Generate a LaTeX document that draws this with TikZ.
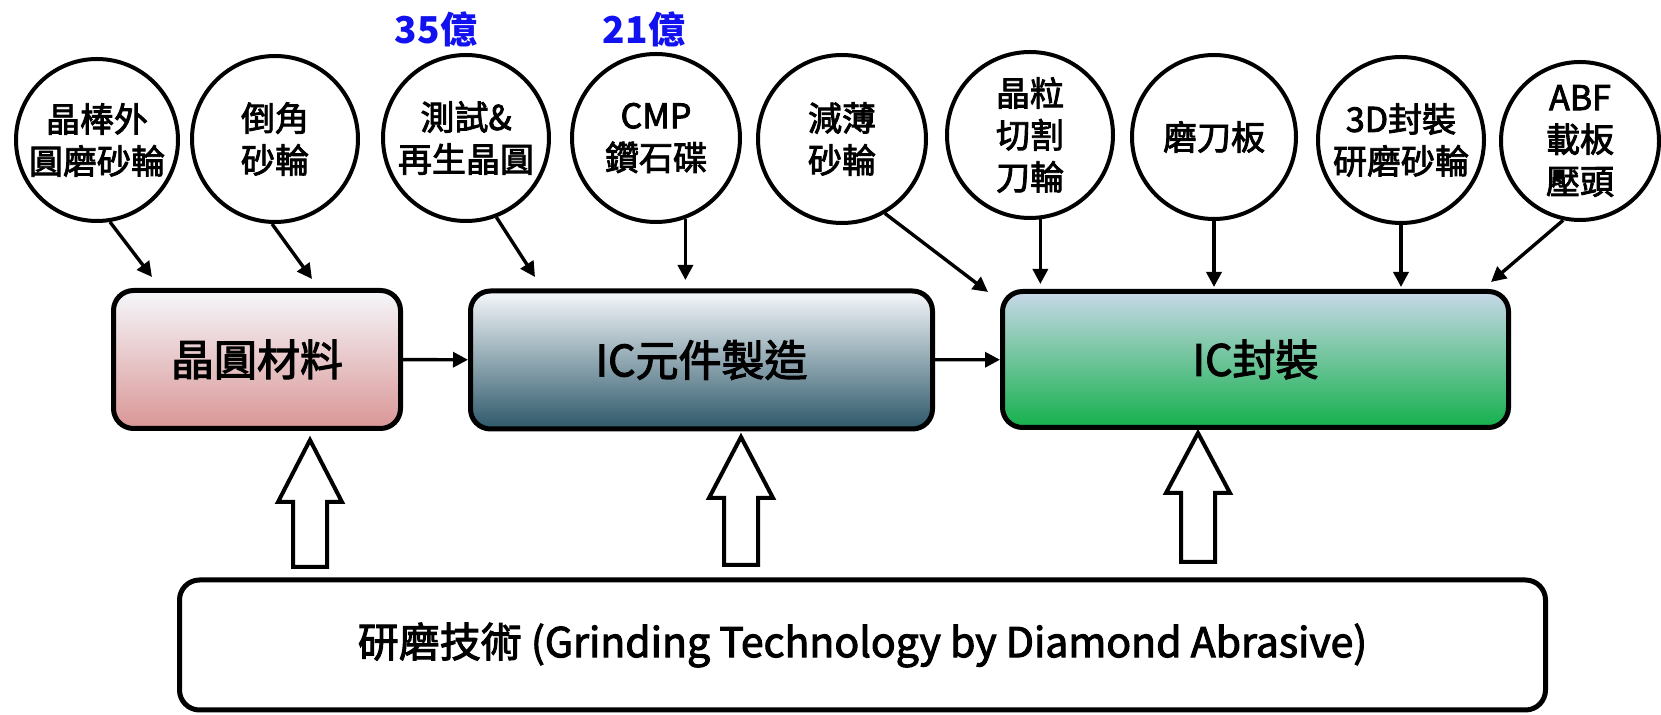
\documentclass[tikz,border=0pt]{standalone}
\usepackage{fontspec}
\setmainfont{Noto Sans CJK TC}
\newfontfamily\txfont{Noto Sans CJK TC}[FakeBold=2.5]
\usetikzlibrary{arrows.meta,calc}
\definecolor{lblblue}{RGB}{18,18,240}
\definecolor{gatop}{RGB}{245,247,251}
\definecolor{gabot}{RGB}{218,150,150}
\definecolor{gbtop}{RGB}{245,248,251}
\definecolor{gbbot}{RGB}{45,88,105}
\definecolor{gctop}{RGB}{200,216,232}
\definecolor{gcbot}{RGB}{20,176,76}
\newcommand{\blkarrow}[4]{%
  \draw[blk] ({#1-17},#4) -- ({#1-17},#3) -- ({#1-32},#3) -- (#1,#2) -- ({#1+32},#3) -- ({#1+17},#3) -- ({#1+17},#4) -- cycle;}
\begin{document}
\begin{tikzpicture}[x=0.5pt,y=-0.5pt,
  bubble/.style={circle,draw,line width=2pt,fill=white,inner sep=0pt,align=center,font=\txfont\fontsize{17}{21}\selectfont},
  stage/.style={rounded corners=10pt,draw,line width=2.5pt,inner sep=0pt,align=center,font=\txfont\fontsize{21.5}{26}\selectfont},
  conn/.style={line width=1.7pt,-{Triangle[length=7.5pt,width=7.5pt]}},
  blk/.style={draw,line width=2pt,fill=white,line join=miter},
  cost/.style={text=lblblue,font=\fontsize{18.5}{22}\bfseries\selectfont}
]
\useasboundingbox (0,0) rectangle (1661,715);

% cost labels
\node[cost] (n35) at (436,29) {35億};
\node[cost] (n21) at (644,29) {21億};

% tool circles
\node[bubble,minimum size=81pt] (c1) at (97,140) {晶棒外\\圓磨砂輪};
\node[bubble,minimum size=83pt] (c2) at (275,139) {倒角\\砂輪};
\node[bubble,minimum size=83pt] (c3) at (466,138) {測試\&\\再生晶圓};
\node[bubble,minimum size=84pt] (c4) at (656,138) {CMP\\鑽石碟};
\node[bubble,minimum size=84pt] (c5) at (842,139) {減薄\\砂輪};
\node[bubble,minimum size=83pt] (c6) at (1030,135) {晶粒\\切割\\刀輪};
\node[bubble,minimum size=82pt] (c7) at (1214,137) {磨刀板};
\node[bubble,minimum size=83pt] (c8) at (1401,140) {3D封裝\\研磨砂輪};
\node[bubble,minimum size=79pt] (c9) at (1580,141) {ABF\\載板\\壓頭};

% process boxes
\node[stage,minimum width=143.5pt,minimum height=69pt,top color=gatop,bottom color=gabot] (b1) at (257,359.5) {晶圓材料};
\node[stage,minimum width=231pt,minimum height=69pt,top color=gbtop,bottom color=gbbot] (b2) at (701.5,360) {IC元件製造};
\node[stage,minimum width=253pt,minimum height=68pt,top color=gctop,bottom color=gcbot] (b3) at (1255.5,359.5) {IC封裝};
\node[stage,minimum width=683pt,minimum height=65pt,fill=white,font=\txfont\fontsize{20.5}{25}\selectfont] (bt) at (862.5,645) {研磨技術 (Grinding Technology by Diamond Abrasive)};

% arrow tips
\coordinate (t1) at (152,277);
\coordinate (t2) at (312,279);
\coordinate (t3) at (535,277);
\coordinate (t4) at (686,280);
\coordinate (t5) at (988,292);
\coordinate (t6) at (1040,284);
\coordinate (t7) at (1215,287);
\coordinate (t8) at (1401,287);
\coordinate (t9) at (1491,282);

\draw[conn] (c1.-81) -- (t1);
\draw[conn] (c2.-92) -- (t2);
\draw[conn] (c3.-69) -- (t3);
\draw[conn] (c4.-70) -- (c4.-70 |- t4);
\draw[conn] (c5.-60) -- (t5);
\draw[conn] (c6.-83) -- (c6.-83 |- t6);
\draw[conn] (c7.south) -- (c7.south |- t7);
\draw[conn] (c8.south) -- (c8.south |- t8);
\draw[conn] (c9.-102) -- (t9);

\draw[conn] (b1) -- (b2);
\draw[conn] (b2) -- (b3);

% block arrows from the grinding technology box
\blkarrow{310}{440}{502}{567}
\blkarrow{741}{437}{498}{565}
\blkarrow{1198}{433}{493}{562}
\end{tikzpicture}
\end{document}
